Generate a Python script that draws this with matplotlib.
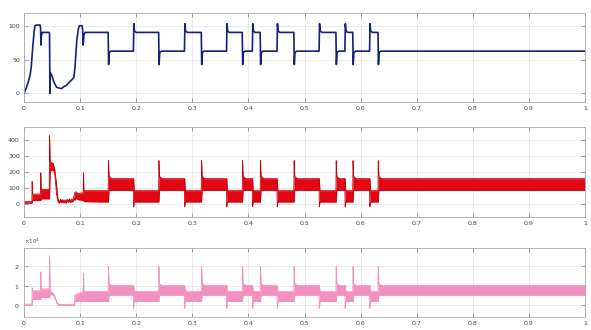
import numpy as np
import matplotlib
matplotlib.use("Agg")
import matplotlib.pyplot as plt
from matplotlib.ticker import ScalarFormatter

# ---------------- data ----------------
# start-up transient (t < 0.11)
speed_start_t = [0, 0.004, 0.008, 0.011, 0.013, 0.0155, 0.018, 0.0196, 0.022, 0.0285, 0.0295,
                 0.0302, 0.031, 0.0325, 0.0445, 0.0455, 0.0462, 0.0468, 0.050, 0.052, 0.055,
                 0.058, 0.062, 0.067, 0.071, 0.076, 0.080, 0.085, 0.089, 0.091, 0.094, 0.097,
                 0.099, 0.1035, 0.1045, 0.1055, 0.107, 0.109]
speed_start_v = [0, 8, 18, 28, 40, 68, 92, 101, 102, 102, 98,
                 72, 86, 91, 91, 90, 0, 31, 26, 20, 14,
                 9, 8, 7, 10, 12, 16, 20, 24, 40, 78, 97,
                 101, 101, 96, 72, 88, 91]

cur_start_t = [0, 0.0140, 0.0145, 0.0152, 0.0295, 0.0300, 0.0306, 0.0450, 0.0456, 0.0466,
               0.0520, 0.0550, 0.0580, 0.0605, 0.063, 0.065, 0.067, 0.069, 0.071, 0.073,
               0.075, 0.077, 0.079, 0.081, 0.083, 0.085, 0.087, 0.089, 0.0905, 0.093,
               0.096, 0.1055, 0.1060, 0.1068]
cur_start_lo = [3, 3, 3, 20, 20, 20, 30, 30, 30, 205,
                215, 185, 60, 14, 2, 18, 5, 16, 4, 14,
                2, 18, 7, 20, 6, 18, 10, 30, 20, 35,
                25, 20, 20, 12]
cur_start_hi = [12, 12, 140, 60, 60, 195, 90, 90, 430, 265,
                255, 210, 120, 30, 10, 28, 14, 26, 12, 24,
                10, 28, 16, 30, 15, 28, 20, 45, 70, 75,
                62, 70, 195, 82]

pow_start_t = [0, 0.0140, 0.0145, 0.0155, 0.0295, 0.0300, 0.0306, 0.0450, 0.0456, 0.0466,
               0.0500, 0.0530, 0.0560, 0.0590, 0.0620, 0.0900, 0.0910, 0.1055, 0.1060, 0.1068]
pow_start_lo = [0.0, 0.0, 0.0, 0.3, 0.3, 0.3, 0.4, 0.4, 0.4, 0.55,
                0.55, 0.5, 0.3, 0.08, 0.0, 0.0, 0.2, 0.2, 0.2, 0.2]
pow_start_hi = [0.06, 0.06, 0.9, 0.75, 0.75, 1.72, 0.85, 0.85, 2.55, 0.70,
                0.68, 0.6, 0.38, 0.14, 0.05, 0.05, 0.55, 0.70, 1.65, 0.72]

# load switching instants; state after each switch alternates L (heavy load) / H (light load)
switch_t = [0.15, 0.195, 0.24, 0.286, 0.316, 0.361, 0.389, 0.407, 0.421, 0.451,
            0.481, 0.526, 0.556, 0.572, 0.586, 0.616, 0.631]
switch_state = ["L", "H", "L", "H", "L", "H", "L", "H", "L", "H",
                "L", "H", "L", "H", "L", "H", "L"]

# steady levels per state
speed_level = {"H": 91, "L": 63}
speed_peak = {"H": 104, "L": 43}          # overshoot on entering state
cur_band = {"H": (10, 82), "L": (84, 158)}
cur_peak = {"H": -20, "L": 272}
pow_band = {"H": (0.20, 0.72), "L": (0.52, 1.02)}
pow_peak = {"H": -0.15, "L": 2.0}
t_end = 1.0

x_ticks = [0, 0.1, 0.2, 0.3, 0.4, 0.5, 0.6, 0.7, 0.8, 0.9, 1]
x_ticklabels = ["0", "0.1", "0.2", "0.3", "0.4", "0.5", "0.6", "0.7", "0.8", "0.9", "1"]

# ---------------- assemble piecewise signals ----------------
sp_t = list(speed_start_t); sp_v = list(speed_start_v)
cu_t = list(cur_start_t); cu_lo = list(cur_start_lo); cu_hi = list(cur_start_hi)
pw_t = list(pow_start_t); pw_lo = list(pow_start_lo); pw_hi = list(pow_start_hi)

prev = "H"
for ts, s in zip(switch_t, switch_state):
    # speed
    sp_t += [ts, ts + 0.0008, ts + 0.002, ts + 0.005]
    sp_v += [speed_level[prev], speed_peak[s], speed_level[s] + (2 if s == "H" else -2), speed_level[s]]
    # current & power envelopes
    for T, LO, HI, band, peak in ((cu_t, cu_lo, cu_hi, cur_band, cur_peak),
                                  (pw_t, pw_lo, pw_hi, pow_band, pow_peak)):
        plo, phi = band[prev]
        nlo, nhi = band[s]
        if s == "L":
            T += [ts, ts + 0.0005, ts + 0.0015, ts + 0.006]
            LO += [plo, plo, nlo, nlo]
            HI += [phi, peak[s], nhi + (nhi - nlo) * 0.2, nhi]
        else:
            T += [ts, ts + 0.0005, ts + 0.0015, ts + 0.006]
            LO += [plo, peak[s], nlo, nlo]
            HI += [phi, phi, nhi, nhi]
    prev = s

sp_t.append(t_end); sp_v.append(speed_level[prev])
cu_t.append(t_end); cu_lo.append(cur_band[prev][0]); cu_hi.append(cur_band[prev][1])
pw_t.append(t_end); pw_lo.append(pow_band[prev][0]); pw_hi.append(pow_band[prev][1])

pw_lo = np.array(pw_lo) * 1e4
pw_hi = np.array(pw_hi) * 1e4

# ---------------- figure ----------------
W, H = 591, 330
fig = plt.figure(figsize=(W / 100, H / 100), dpi=100)
fig.patch.set_facecolor("white")

def ax_at(left, top, right, bottom):
    return fig.add_axes([left / W, 1 - bottom / H, (right - left) / W, (bottom - top) / H])

ax1 = ax_at(24, 13, 585, 102)
ax2 = ax_at(24, 127, 585, 217)
ax3 = ax_at(24, 248, 585, 317)

navy = "#14207a"
red = "#e30613"
pink = "#f290bf"

ax1.plot(sp_t, sp_v, color=navy, lw=1.2)
ax2.fill_between(cu_t, cu_lo, cu_hi, color=red, lw=0)
ax2.plot(cu_t, cu_hi, color="#c4000a", lw=0.6)
ax2.plot(cu_t, cu_lo, color="#c4000a", lw=0.6)
ax3.fill_between(pw_t, pw_lo, pw_hi, color=pink, lw=0)
ax3.plot(pw_t, pw_hi, color=pink, lw=0.6)
ax3.plot(pw_t, pw_lo, color=pink, lw=0.6)

ax1.set_ylim(-13, 120); ax1.set_yticks([0, 50, 100])
ax2.set_ylim(-85, 485); ax2.set_yticks([0, 100, 200, 300, 400])
ax3.set_ylim(-0.6e4, 2.95e4); ax3.set_yticks([0, 1e4, 2e4])
fmt = ScalarFormatter(useMathText=True)
fmt.set_powerlimits((0, 0))
ax3.yaxis.set_major_formatter(fmt)
ax3.yaxis.get_offset_text().set_fontsize(4)
ax3.yaxis.get_offset_text().set_color("#444444")

for ax in (ax1, ax2, ax3):
    ax.set_xlim(0, 1)
    ax.set_xticks(x_ticks)
    ax.set_xticklabels(x_ticklabels)
    ax.grid(True, color="#e2e2e2", lw=0.5)
    ax.set_axisbelow(True)
    ax.tick_params(direction="in", length=3, width=0.5, color="#777777",
                   labelsize=4.5, labelcolor="#444444", top=True, right=True, pad=3)
    for sp in ax.spines.values():
        sp.set_color("#a8a8a8")
        sp.set_linewidth(0.6)

fig.savefig("out.png", dpi=100, facecolor="white")
